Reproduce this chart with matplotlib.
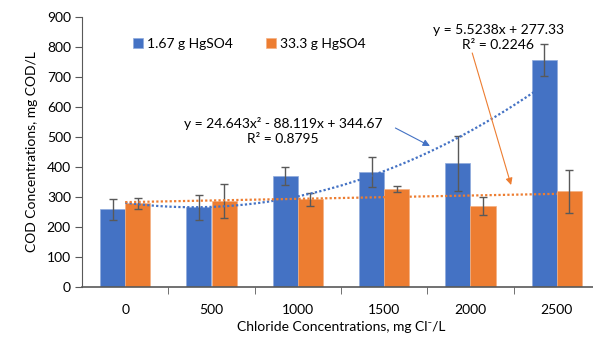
import numpy as np
import matplotlib
matplotlib.use("Agg")
import matplotlib.pyplot as plt

plt.rcParams['font.family'] = ['Lato', 'DejaVu Sans']

categories = ["0", "500", "1000", "1500", "2000", "2500"]
low_hg = [259, 266, 370, 383, 412, 756]
low_err = [35, 42, 31, 50, 91, 54]
high_hg = [279, 287, 293, 326, 271, 319]
high_err = [19, 57, 22, 10, 30, 72]
series_names = ["1.67 g HgSO4", "33.3 g HgSO4"]
poly_coef = [24.643, -88.119, 344.67]
lin_coef = [5.5238, 277.33]
poly_text = "y = 24.643x² - 88.119x + 344.67\nR² = 0.8795"
lin_text = "y = 5.5238x + 277.33\nR² = 0.2246"

blue = "#4472C4"
orange = "#ED7D31"
axis_col = "#595959"
fs = 10

fig = plt.figure(figsize=(5.93, 3.39), dpi=100)
ax = fig.add_axes([82/593, 52/339, (600-82)/593, (287-17)/339])

n = len(categories)
x = np.arange(n)
w = 0.29
ekw = dict(ecolor="#595959", elinewidth=1, capsize=3, capthick=1)
ax.bar(x - w/2, low_hg, w, color=blue, edgecolor="#8FAADC", linewidth=0.5,
       yerr=low_err, error_kw=ekw, label=series_names[0], zorder=2)
ax.bar(x + w/2, high_hg, w, color=orange, edgecolor="#F4B183", linewidth=0.5,
       yerr=high_err, error_kw=ekw, label=series_names[1], zorder=2)

# trendlines (Excel x = 1..n)
xs = np.linspace(1, n, 200)
ax.plot(xs - 1, np.polyval(poly_coef, xs), color=blue, ls=(0, (1, 1)), lw=1.6, zorder=3)
ax.plot(xs - 1, np.polyval(lin_coef, xs), color=orange, ls=(0, (1, 1)), lw=1.6, zorder=3)

ax.set_xlim(-0.5, n - 0.5)
ax.set_ylim(0, 900)
ax.set_yticks(np.arange(0, 901, 100))
ax.set_xticks(x)
ax.set_xticklabels(categories)
ax.set_xticks(np.arange(0.5, n - 0.5, 1), minor=True)
ax.tick_params(axis='x', which='major', length=0, pad=12, labelsize=fs, colors='black')
ax.tick_params(axis='x', which='minor', length=5, color=axis_col, direction='out')
ax.tick_params(axis='y', length=5, color=axis_col, labelsize=fs, pad=3)

for s in ['top', 'right']:
    ax.spines[s].set_visible(False)
ax.spines['left'].set_color(axis_col)
ax.spines['bottom'].set_color(axis_col)
ax.spines['bottom'].set_linewidth(1.2)

ax.set_ylabel("COD Concentrations, mg COD/L", fontsize=fs, labelpad=6)
ax.set_xlabel("Chloride Concentrations, mg Cl⁻/L", fontsize=fs, labelpad=4)

leg = ax.legend(loc='upper left', bbox_to_anchor=(0.075, 0.97), ncol=2, frameon=False,
                fontsize=fs, handlelength=0.7, handleheight=0.7, handletextpad=0.3,
                columnspacing=2.4)

# annotations
ax.text(1.83, 519, poly_text, ha='center', va='center', fontsize=fs, linespacing=1.3)
ax.annotate("", xy=(3.53, 470), xytext=(3.13, 530),
            arrowprops=dict(arrowstyle='-|>', color=blue, lw=0.8, mutation_scale=10,
                            shrinkA=0, shrinkB=0))
ax.text(4.32, 832, lin_text, ha='center', va='center', fontsize=fs, linespacing=1.3)
ax.annotate("", xy=(4.47, 340), xytext=(4.02, 780),
            arrowprops=dict(arrowstyle='-|>', color=orange, lw=0.8, mutation_scale=10,
                            shrinkA=0, shrinkB=0))

fig.savefig("out.png", dpi=100)
